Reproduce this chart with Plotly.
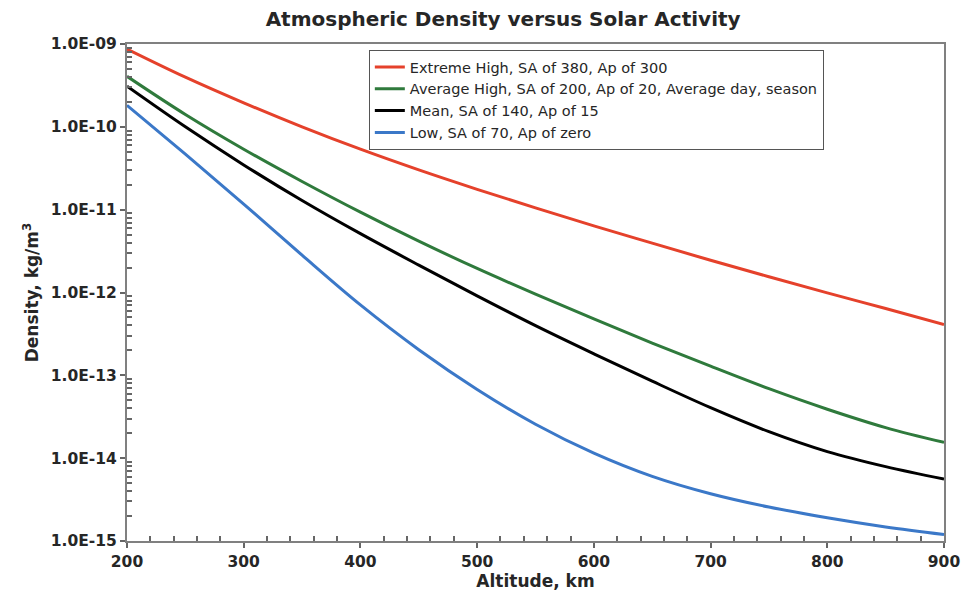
import plotly.graph_objects as go

altitude_km = [200, 250, 300, 350, 400, 450, 500, 550, 600, 650, 700, 750, 800, 850, 900]

extreme_high = [8.7e-10, 3.98e-10, 1.95e-10, 1.0e-10, 5.37e-11, 3.02e-11, 1.76e-11, 1.05e-11,
                6.38e-12, 3.94e-12, 2.45e-12, 1.55e-12, 9.9e-13, 6.4e-13, 4.1e-13]
average_high = [4.07e-10, 1.41e-10, 5.37e-11, 2.19e-11, 9.33e-12, 4.17e-12, 1.95e-12, 9.55e-13,
                4.79e-13, 2.45e-13, 1.29e-13, 6.9e-14, 3.9e-14, 2.34e-14, 1.55e-14]
mean_activity = [3.09e-10, 1.0e-10, 3.47e-11, 1.29e-11, 5.13e-12, 2.14e-12, 9.1e-13, 3.98e-13,
                 1.82e-13, 8.5e-14, 4.07e-14, 2.09e-14, 1.2e-14, 7.9e-15, 5.6e-15]
low_activity = [1.82e-10, 4.68e-11, 1.17e-11, 2.82e-12, 7.08e-13, 2.04e-13, 6.76e-14, 2.57e-14,
                1.15e-14, 6.03e-15, 3.72e-15, 2.57e-15, 1.91e-15, 1.48e-15, 1.2e-15]

series_names = ["Extreme High, SA of 380, Ap of 300",
                "Average High, SA of 200, Ap of 20, Average day, season",
                "Mean, SA of 140, Ap of 15",
                "Low, SA of 70, Ap of zero"]
series_values = [extreme_high, average_high, mean_activity, low_activity]
series_colors = ["#E5412B", "#2F7A3C", "#000000", "#3B78C8"]

y_tick_values = [1e-9, 1e-10, 1e-11, 1e-12, 1e-13, 1e-14, 1e-15]
y_tick_labels = ["1.0E-09", "1.0E-10", "1.0E-11", "1.0E-12", "1.0E-13", "1.0E-14", "1.0E-15"]
x_tick_values = [200, 300, 400, 500, 600, 700, 800, 900]
x_tick_labels = ["200", "300", "400", "500", "600", "700", "800", "900"]

FONT = "DejaVu Sans"
TXT = "#262626"

fig = go.Figure()
for name, vals, col in zip(series_names, series_values, series_colors):
    fig.add_trace(go.Scatter(x=altitude_km, y=vals, mode="lines", name=name,
                             line=dict(color=col, width=3, shape="spline", smoothing=1.0)))

minor_y = [m * 10.0 ** e for e in range(-15, -9) for m in range(2, 10)]
minor_x = [v for v in range(220, 900, 20) if v % 100 != 0]

fig.update_layout(
    width=962, height=598,
    paper_bgcolor="white", plot_bgcolor="white",
    margin=dict(l=127, r=18, t=44, b=57, autoexpand=False),
    title=dict(text="<b>Atmospheric Density versus Solar Activity</b>",
               x=0.523, xanchor="center", y=0.98, yanchor="top",
               font=dict(family=FONT, size=20, color=TXT)),
    font=dict(family=FONT, color=TXT),
    legend=dict(x=0.296, y=0.988, xanchor="left", yanchor="top",
                bgcolor="white", bordercolor="#555555", borderwidth=1,
                font=dict(family=FONT, size=14.5, color=TXT),
                tracegroupgap=0, itemwidth=30),
    showlegend=True,
)
fig.update_xaxes(range=[200, 900], tickvals=x_tick_values,
                 ticktext=["<b>%s</b>" % t for t in x_tick_labels],
                 automargin=False,
                 ticks="outside", ticklen=5, tickwidth=1.5, tickcolor="#666666",
                 showline=True, linecolor="#808080", linewidth=2, mirror=True,
                 showgrid=False, zeroline=False,
                 tickfont=dict(family=FONT, size=15.5, color=TXT),
                 title=dict(text="<b>Altitude, km</b>", font=dict(family=FONT, size=17, color=TXT), standoff=6),
                 minor=dict(tickvals=minor_x, ticks="inside", ticklen=5, tickcolor="#666666", showgrid=False))
fig.update_yaxes(type="log", range=[-15, -9], tickvals=y_tick_values,
                 ticktext=["<b>%s</b>" % t for t in y_tick_labels],
                 automargin=False,
                 ticks="outside", ticklen=5, tickwidth=1.5, tickcolor="#666666",
                 showline=True, linecolor="#808080", linewidth=2, mirror=True,
                 showgrid=False, zeroline=False,
                 tickfont=dict(family=FONT, size=15.5, color=TXT),
                 title=dict(text="<b>Density, kg/m<sup>3</sup></b>", font=dict(family=FONT, size=17, color=TXT), standoff=8),
                 minor=dict(tickvals=minor_y, ticks="inside", ticklen=5, tickcolor="#666666", showgrid=False))

fig.write_html("out.html", config={"displayModeBar": False},
               post_script="document.body.style.margin='0';document.body.style.overflow='hidden';")
